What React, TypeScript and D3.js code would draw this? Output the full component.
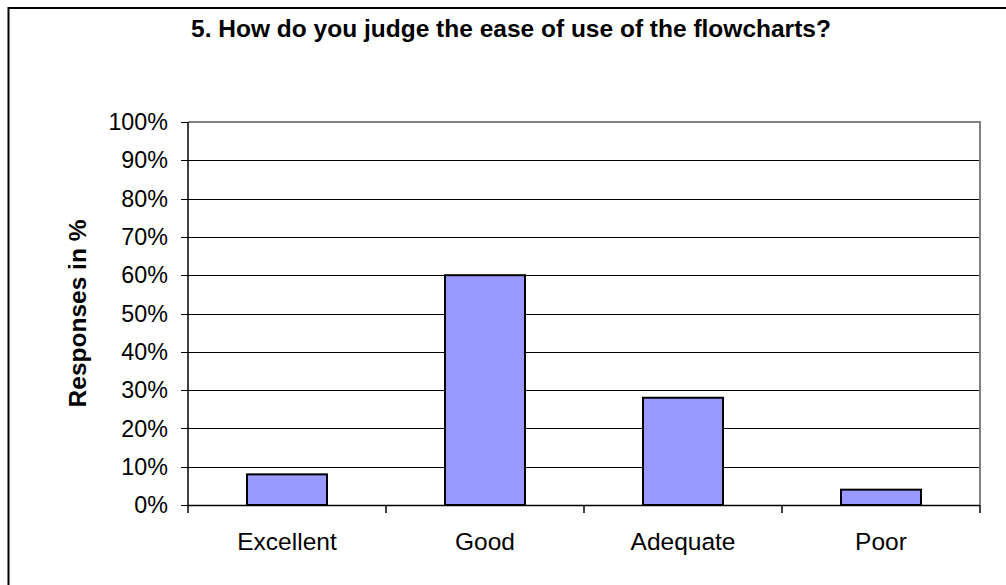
import React from "react";
import * as d3 from "d3";

const title = "5. How do you judge the ease of use of the flowcharts?";
const yAxisTitle = "Responses in %";
const categories = ["Excellent", "Good", "Adequate", "Poor"];
const responses = [0.08, 0.6, 0.28, 0.04];
const yTicks = [0, 0.1, 0.2, 0.3, 0.4, 0.5, 0.6, 0.7, 0.8, 0.9, 1.0];

const W = 1006;
const H = 585;
const plot = { left: 188, right: 980, top: 122, bottom: 505 };
const FONT = "'Liberation Sans', Arial, sans-serif";
const FS = 24.5;
const TICK_FS = 23.3;

export default function App() {
  const x = d3
    .scaleBand<string>()
    .domain(categories)
    .range([plot.left, plot.right])
    .paddingInner(0.596)
    .paddingOuter(0.298);
  const y = d3.scaleLinear().domain([0, 1]).range([plot.bottom, plot.top]);
  const fmt = d3.format(".0%");
  const step = x.step();
  const catTicks = d3.range(categories.length + 1).map((i) => plot.left + i * step);

  return (
    <svg
      width={W}
      height={H}
      style={{ position: "absolute", left: 0, top: 0, background: "#fff" }}
      fontFamily={FONT}
    >
      {/* chart frame */}
      <rect x={8.5} y={8} width={1010} height={600} fill="#fff" stroke="#000" strokeWidth={2} />

      <text x={511} y={37} textAnchor="middle" fontSize={FS} fontWeight="bold" fill="#000">
        {title}
      </text>

      {/* gridlines */}
      {yTicks.slice(1, -1).map((t) => (
        <line
          key={t}
          x1={plot.left}
          x2={plot.right}
          y1={Math.round(y(t)) + 0.5}
          y2={Math.round(y(t)) + 0.5}
          stroke="#000"
          strokeWidth={1}
        />
      ))}

      {/* plot area border (top/right) */}
      <path
        d={`M${plot.left},${plot.top} H${plot.right} V${plot.bottom}`}
        fill="none"
        stroke="#808080"
        strokeWidth={2}
      />

      {/* bars */}
      {categories.map((c, i) => (
        <rect
          key={c}
          x={x(c)}
          y={y(responses[i])}
          width={x.bandwidth()}
          height={y(0) - y(responses[i])}
          fill="#9999FF"
          stroke="#000"
          strokeWidth={2}
        />
      ))}

      {/* y axis */}
      <line x1={plot.left} x2={plot.left} y1={plot.top} y2={plot.bottom} stroke="#000" strokeWidth={1.5} />
      {yTicks.map((t) => (
        <g key={t}>
          <line
            x1={plot.left - 7}
            x2={plot.left}
            y1={Math.round(y(t)) + 0.5}
            y2={Math.round(y(t)) + 0.5}
            stroke="#000"
          />
          <text x={168} y={y(t)} dy="0.35em" textAnchor="end" fontSize={TICK_FS} fill="#000">
            {fmt(t)}
          </text>
        </g>
      ))}

      {/* x axis */}
      <line x1={plot.left} x2={plot.right} y1={plot.bottom + 0.5} y2={plot.bottom + 0.5} stroke="#000" strokeWidth={1.5} />
      {catTicks.map((tx, i) => (
        <line key={i} x1={tx} x2={tx} y1={plot.bottom} y2={plot.bottom + 8} stroke="#000" strokeWidth={1.5} />
      ))}
      {categories.map((c) => (
        <text
          key={c}
          x={(x(c) ?? 0) + x.bandwidth() / 2}
          y={550}
          textAnchor="middle"
          fontSize={FS}
          fill="#000"
        >
          {c}
        </text>
      ))}

      <text
        transform={`translate(86,${(plot.top + plot.bottom) / 2}) rotate(-90)`}
        textAnchor="middle"
        fontSize={FS}
        fontWeight="bold"
        fill="#000"
      >
        {yAxisTitle}
      </text>
    </svg>
  );
}
